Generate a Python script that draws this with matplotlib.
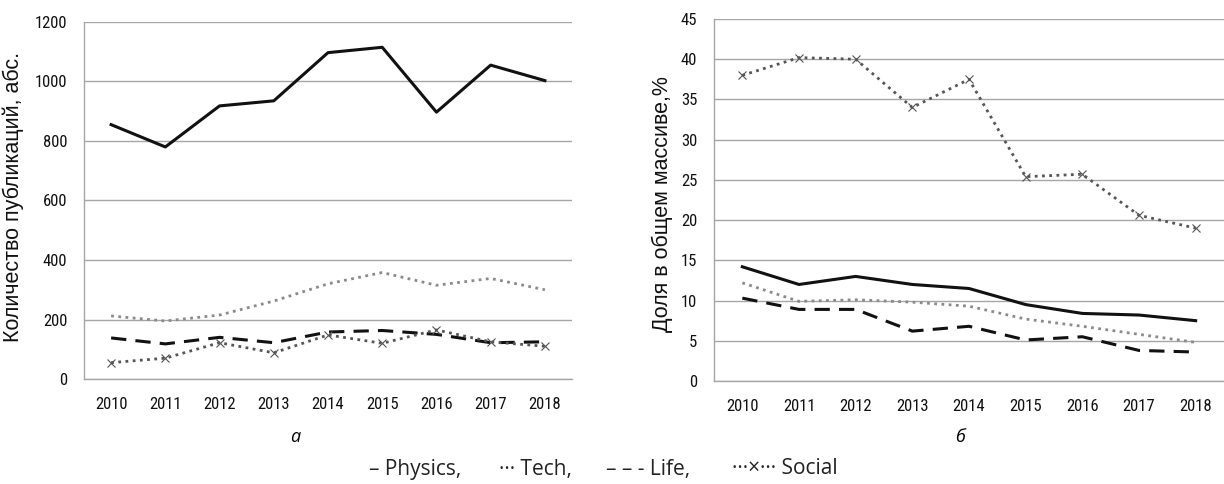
import matplotlib
matplotlib.use("Agg")
import matplotlib.pyplot as plt
from matplotlib import font_manager

years = ["2010", "2011", "2012", "2013", "2014", "2015", "2016", "2017", "2018"]

# panel а: absolute counts
abs_physics = [855, 780, 918, 935, 1097, 1115, 897, 1055, 1003]
abs_tech = [212, 195, 215, 262, 320, 358, 315, 338, 300]
abs_life = [138, 118, 140, 122, 158, 163, 150, 122, 125]
abs_social = [55, 70, 122, 88, 148, 120, 165, 125, 110]

# panel б: share, %
pct_physics = [14.2, 12.0, 13.0, 12.0, 11.5, 9.5, 8.4, 8.2, 7.5]
pct_tech = [12.2, 9.9, 10.1, 9.8, 9.3, 7.7, 6.8, 5.8, 4.8]
pct_life = [10.3, 8.9, 8.9, 6.2, 6.8, 5.1, 5.5, 3.8, 3.6]
pct_social = [38.0, 40.2, 40.0, 34.0, 37.5, 25.4, 25.7, 20.6, 19.0]

legend_items = ["– Physics,", "··· Tech,", "– – - Life,", "···×··· Social"]

# narrow font for ticks if we have one
installed = {f.name for f in font_manager.fontManager.ttflist}
TICK_FONT = "Liberation Sans"
for cand in ["Liberation Sans Narrow", "Roboto Condensed", "Open Sans Condensed"]:
    if cand in installed:
        TICK_FONT = cand
        break
tick_size = 12 if TICK_FONT != "Liberation Sans" else 10.5

W, H = 1224, 484


def draw(ax, physics, tech, life, social, yticks):
    x = range(len(years))
    ax.plot(x, physics, color="#111111", lw=2.2, ls="-")
    ax.plot(x, tech, color="#8a8a8a", lw=2.0, ls=(0, (1, 1.6)))
    ax.plot(x, life, color="#111111", lw=2.2, ls=(0, (5, 3)))
    ax.plot(x, social, color="#555555", lw=2.0, ls=(0, (1, 1.6)),
            marker="x", ms=5.5, mew=0.8, mec="#555555")
    ax.set_xlim(-0.5, len(years) - 0.5)
    ax.set_ylim(yticks[0], yticks[-1])
    ax.set_yticks(yticks)
    ax.set_xticks(list(x))
    ax.set_xticklabels(years)
    ax.grid(axis="y", color="#a6a6a6", lw=1.0)
    ax.set_axisbelow(True)
    for s in ["top", "right"]:
        ax.spines[s].set_visible(False)
    for s in ["left", "bottom"]:
        ax.spines[s].set_color("#a6a6a6")
        ax.spines[s].set_linewidth(1.0)
    ax.tick_params(length=0, labelsize=tick_size)
    ax.tick_params(axis="y", pad=12)
    ax.tick_params(axis="x", pad=13)
    for lab in ax.get_xticklabels() + ax.get_yticklabels():
        lab.set_family(TICK_FONT)
        lab.set_color("#111111")


fig = plt.figure(figsize=(W / 100, H / 100), dpi=100)
ax1 = fig.add_axes([84 / W, 1 - 379 / H, 488 / W, 357 / H])
ax2 = fig.add_axes([714 / W, 1 - 381 / H, 510 / W, 362 / H])

draw(ax1, abs_physics, abs_tech, abs_life, abs_social, list(range(0, 1201, 200)))
draw(ax2, pct_physics, pct_tech, pct_life, pct_social, list(range(0, 46, 5)))

fig.text(13 / W, 1 - 197 / H, "Количество публикаций, абс.", rotation=90,
         fontsize=15.5, family="Liberation Sans", color="#111111", ha="center", va="center")
fig.text(662 / W, 1 - 204 / H, "Доля в общем массиве,%", rotation=90,
         fontsize=15.5, family="Liberation Sans", color="#111111", ha="center", va="center")

fig.text(295 / W, 1 - 437 / H, "а", fontsize=13, style="italic", family="Open Sans",
         ha="center", va="center")
fig.text(960 / W, 1 - 437 / H, "б", fontsize=13, style="italic", family="Open Sans",
         ha="center", va="center")

# legend written out as text, like in the source figure
for label, x0 in zip(legend_items, [369, 499, 606, 732]):
    fig.text(x0 / W, 1 - 469 / H, label, fontsize=15, family="Open Sans",
             ha="left", va="center", color="#222222")

fig.savefig("out.png", dpi=100)
